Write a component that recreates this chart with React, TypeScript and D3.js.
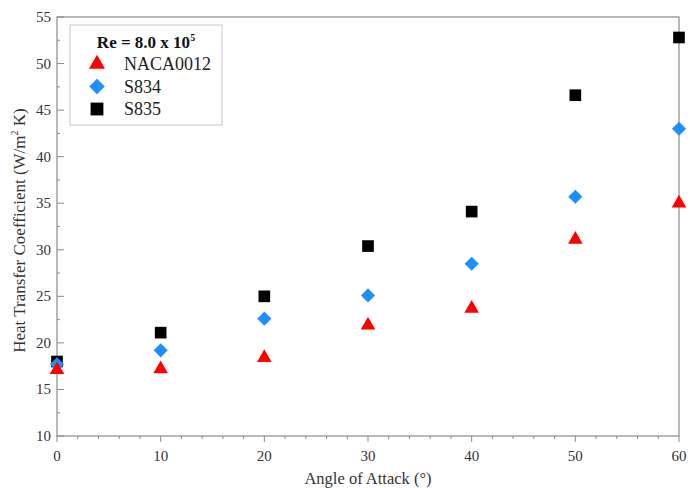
import React, { useEffect, useRef } from "react";
import * as d3 from "d3";

const angles = [0, 10, 20, 30, 40, 50, 60];
const naca0012 = [17.1, 17.2, 18.4, 21.9, 23.7, 31.1, 35.0];
const s834 = [17.7, 19.2, 22.6, 25.1, 28.5, 35.7, 43.0];
const s835 = [18.0, 21.1, 25.0, 30.4, 34.1, 46.6, 52.8];
const seriesNames = ["NACA0012", "S834", "S835"];
const xTicks = [0, 10, 20, 30, 40, 50, 60];
const yTicks = [10, 15, 20, 25, 30, 35, 40, 45, 50, 55];

const App = () => {
    const svgRef = useRef<SVGSVGElement>(null);

    useEffect(() => {
        const svg = d3.select(svgRef.current);
        svg.selectAll("*").remove();

        const width = 690;
        const height = 488;
        const margin = { top: 17, right: 11, bottom: 52, left: 57 };
        const font = "'Liberation Serif', 'Times New Roman', serif";
        const axisColor = "#8a8a8a";
        const textColor = "#333";

        const x = d3
            .scaleLinear()
            .domain([0, 60])
            .range([margin.left, width - margin.right]);
        const y = d3
            .scaleLinear()
            .domain([10, 55])
            .range([height - margin.bottom, margin.top]);

        // frame
        svg
            .append("rect")
            .attr("x", x(0))
            .attr("y", y(55))
            .attr("width", x(60) - x(0))
            .attr("height", y(10) - y(55))
            .attr("fill", "none")
            .attr("stroke", axisColor)
            .attr("stroke-width", 1.2);

        // x ticks (outward), minor every 2
        const xMinor = d3.range(0, 61, 2).filter((d) => d % 10 !== 0);
        svg
            .selectAll(".xmajor")
            .data(xTicks)
            .join("line")
            .attr("x1", (d) => x(d))
            .attr("x2", (d) => x(d))
            .attr("y1", y(10))
            .attr("y2", y(10) + 6)
            .attr("stroke", axisColor);
        svg
            .selectAll(".xminor")
            .data(xMinor)
            .join("line")
            .attr("x1", (d) => x(d))
            .attr("x2", (d) => x(d))
            .attr("y1", y(10))
            .attr("y2", y(10) + 3)
            .attr("stroke", axisColor);
        svg
            .selectAll(".xlabel")
            .data(xTicks)
            .join("text")
            .attr("x", (d) => x(d))
            .attr("y", y(10) + 25)
            .attr("text-anchor", "middle")
            .attr("font-family", font)
            .attr("font-size", 15)
            .attr("fill", textColor)
            .text((d) => d);

        // y ticks (inward), minor every 2.5
        const yMinor = d3.range(12.5, 55, 5);
        svg
            .selectAll(".ymajor")
            .data(yTicks)
            .join("line")
            .attr("x1", x(0))
            .attr("x2", x(0) + 7)
            .attr("y1", (d) => y(d))
            .attr("y2", (d) => y(d))
            .attr("stroke", axisColor);
        svg
            .selectAll(".yminor")
            .data(yMinor)
            .join("line")
            .attr("x1", x(0))
            .attr("x2", x(0) + 3)
            .attr("y1", (d) => y(d))
            .attr("y2", (d) => y(d))
            .attr("stroke", axisColor);
        svg
            .selectAll(".ylabel")
            .data(yTicks)
            .join("text")
            .attr("x", x(0) - 6)
            .attr("y", (d) => y(d) + 5)
            .attr("text-anchor", "end")
            .attr("font-family", font)
            .attr("font-size", 15)
            .attr("fill", textColor)
            .text((d) => d);

        // axis titles
        svg
            .append("text")
            .attr("x", (x(0) + x(60)) / 2)
            .attr("y", height - 4)
            .attr("text-anchor", "middle")
            .attr("font-family", font)
            .attr("font-size", 16.5)
            .attr("fill", textColor)
            .text("Angle of Attack (°)");
        const yt = svg
            .append("text")
            .attr("transform", `translate(25,${(y(10) + y(55)) / 2 + 4}) rotate(-90)`)
            .attr("text-anchor", "middle")
            .attr("font-family", font)
            .attr("font-size", 17)
            .attr("fill", textColor);
        yt.append("tspan").text("Heat Transfer Coefficient (W/m");
        yt.append("tspan").attr("font-size", 10).attr("dy", -7).text("2");
        yt.append("tspan").attr("dy", 7).text(" K)");

        // markers
        const shapes = [
            { data: naca0012, path: d3.symbol(d3.symbolTriangle, 92)(), rot: 0, color: "#ff0000" },
            { data: s834, path: d3.symbol(d3.symbolSquare, 100)(), rot: 45, color: "#1e8fff" },
            { data: s835, path: d3.symbol(d3.symbolSquare, 136)(), rot: 0, color: "#000000" },
        ];
        // S835 behind, NACA0012 in front (matches overlap at 0°)
        [shapes[2], shapes[1], shapes[0]].forEach((s) => {
            svg
                .append("g")
                .selectAll("path")
                .data(s.data)
                .join("path")
                .attr("d", s.path)
                .attr("transform", (d, i) => `translate(${x(angles[i])},${y(d)}) rotate(${s.rot})`)
                .attr("fill", s.color);
        });

        // legend
        const lg = svg.append("g").attr("transform", "translate(70,25)");
        lg.append("rect")
            .attr("width", 152)
            .attr("height", 100)
            .attr("fill", "#fff")
            .attr("stroke", "#d0d0d0")
            .attr("stroke-width", 1.2);
        const lt = lg
            .append("text")
            .attr("x", 76)
            .attr("y", 23)
            .attr("text-anchor", "middle")
            .attr("font-family", font)
            .attr("font-size", 17)
            .attr("font-weight", "bold")
            .attr("fill", "#111");
        lt.append("tspan").text("Re = 8.0 x 10");
        lt.append("tspan").attr("font-size", 10).attr("dy", -7).text("5");
        seriesNames.forEach((name, i) => {
            const s = shapes[i];
            const cy = 39 + i * 22.5;
            lg.append("path")
                .attr("d", s.path)
                .attr("transform", `translate(27,${cy}) rotate(${s.rot}) scale(1.1)`)
                .attr("fill", s.color);
            lg.append("text")
                .attr("x", 54)
                .attr("y", cy + 6)
                .attr("font-family", font)
                .attr("font-size", 18)
                .attr("fill", "#222")
                .text(name);
        });
    }, []);

    return (
        <svg
            ref={svgRef}
            width={690}
            height={488}
            style={{ position: "fixed", left: 0, top: 0, background: "#fff" }}
        ></svg>
    );
};

export default App;
